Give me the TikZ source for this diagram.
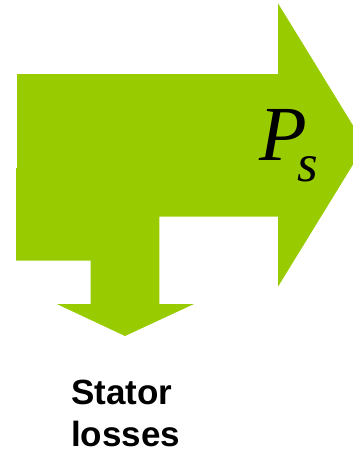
\documentclass[tikz,border=0pt]{standalone}
\usepackage{fontspec}
\setmainfont{Liberation Sans}
\newfontfamily\tms{Liberation Serif}
\definecolor{arrowgreen}{HTML}{99CC00}
\tikzset{
  flow/.style={fill=arrowgreen, draw=none},
  sym/.style={inner sep=0pt, font=\tms\itshape\fontsize{78}{80}\selectfont, text=black},
  lbl/.style={inner sep=0pt, font=\bfseries\fontsize{35}{42}\selectfont, align=left, text=black}
}
\begin{document}
\begin{tikzpicture}[x=1pt,y=-1pt]
\useasboundingbox (0,0) rectangle (353,450);
\begin{scope}
\clip (0,0) rectangle (353,450);
\path[flow] (17,74) -- (278,74) -- (278,3.3) -- (365,145) -- (278,286.7) -- (278,216.7)
  -- (159.3,216.7) -- (159.3,304) -- (194,304) -- (125,336) -- (56.7,304) -- (90.7,304)
  -- (90.7,260.7) -- (16,260.7) -- (16,168) -- (17,168) -- cycle;
\end{scope}
\node[sym, anchor=base west] (Ps) at (259,160.5)
  {P\kern-9.6pt\raisebox{-21pt}{\fontsize{53}{55}\selectfont s}};
\node[lbl, anchor=base west] (L) at (71,446.5) {Stator\\losses};
\end{tikzpicture}
\end{document}
